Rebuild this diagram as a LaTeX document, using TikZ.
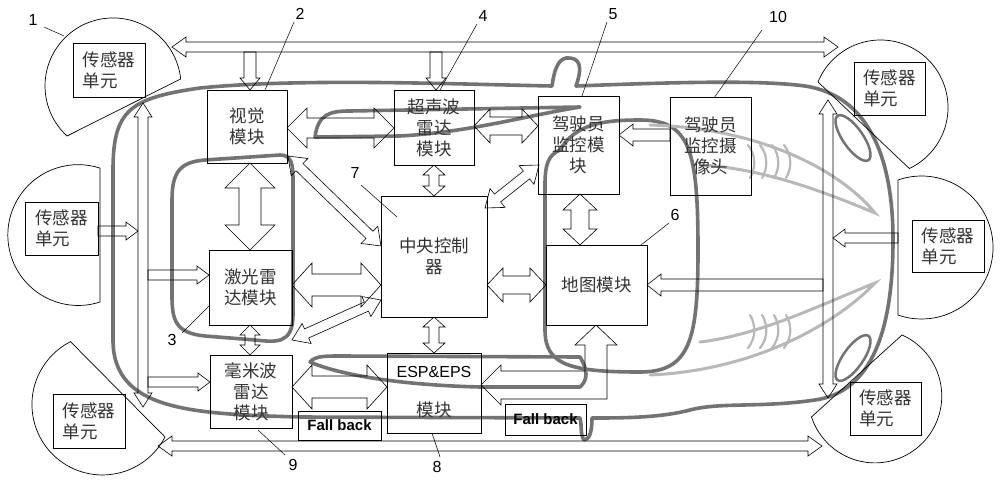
\documentclass[tikz,border=0pt]{standalone}
\usepackage{fontspec}
\setmainfont{Liberation Sans}
\newfontfamily\cjk{Noto Sans CJK SC}
\begin{document}
\begin{tikzpicture}[x=1pt,y=-1pt,
  box/.style={draw,line width=0.7pt,inner sep=0pt,font=\cjk\fontsize{17.5}{21}\selectfont,align=center,text=black!80},
  sbox/.style={box,align=left},
  fb/.style={draw,line width=0.9pt,inner sep=0pt,font=\bfseries\fontsize{15}{18}\selectfont},
  harr/.style={draw,line width=0.6pt,line join=miter},
  car/.style={draw=black!55,line width=3.6pt,line cap=round,line join=round},
  streak/.style={draw=black!28,line width=3pt,line cap=round},
  lead/.style={line width=0.5pt},
  num/.style={font=\fontsize{16}{18}\selectfont}]
\useasboundingbox (0,0) rectangle (1000,495);
\newcommand\dbl[7]{%
 \pgfmathsetmacro\mydx{#3-#1}\pgfmathsetmacro\mydy{#2-#4}%
 \pgfmathsetmacro\myang{atan2(\mydy,\mydx)}\pgfmathsetmacro\mylen{veclen(\mydx,\mydy)}%
 \draw[harr,shift={(#1,#2)},rotate=\myang] (0,0) -- (#7,#6) -- (#7,#5) -- ({\mylen-#7},#5) -- ({\mylen-#7},#6) -- (\mylen,0) -- ({\mylen-#7},-#6) -- ({\mylen-#7},-#5) -- (#7,-#5) -- (#7,-#6) -- cycle;}
\newcommand\sgl[7]{%
 \pgfmathsetmacro\mydx{#3-#1}\pgfmathsetmacro\mydy{#2-#4}%
 \pgfmathsetmacro\myang{atan2(\mydy,\mydx)}\pgfmathsetmacro\mylen{veclen(\mydx,\mydy)}%
 \draw[harr,shift={(#1,#2)},rotate=\myang] (0,#5) -- ({\mylen-#7},#5) -- ({\mylen-#7},#6) -- (\mylen,0) -- ({\mylen-#7},-#6) -- ({\mylen-#7},-#5) -- (0,-#5) -- cycle;}

% ---- car outline ----
\draw[car] (113,170) .. controls (113,110) and (130,98) .. (200,88)
  .. controls (300,78) and (450,84) .. (552,86)
  .. controls (554,72) and (557,60) .. (566,58) .. controls (580,57) and (583,66) .. (576,86)
  .. controls (680,82) and (760,80) .. (805,86) .. controls (870,96) and (893,160) .. (893,240)
  .. controls (893,330) and (872,392) .. (815,400) .. controls (760,408) and (720,402) .. (690,410)
  .. controls (660,418) and (620,418) .. (592,418) .. controls (592,430) and (590,440) .. (584,440)
  .. controls (580,435) and (582,425) .. (580,418)
  -- (300,417) .. controls (190,414) and (113,410) .. (113,340) -- cycle;
\draw[car] (205,160) -- (280,155) .. controls (292,155) and (293,165) .. (293,180) -- (293,315)
  .. controls (293,345) and (275,342) .. (255,340) -- (205,336) .. controls (175,333) and (172,320) .. (172,295)
  -- (172,200) .. controls (172,172) and (180,162) .. (205,160) -- cycle;
\draw[car] (560,150) .. controls (548,155) and (545,165) .. (545,185) -- (545,330)
  .. controls (545,365) and (570,372) .. (640,372) .. controls (690,372) and (698,340) .. (698,250)
  .. controls (698,150) and (690,120) .. (640,120) .. controls (600,120) and (575,125) .. (560,150) -- cycle;
\draw[car] (315,137) .. controls (318,114) and (330,111) .. (350,111) -- (580,107)
  .. controls (520,117) and (470,132) .. (400,136) -- cycle;
\draw[car] (310,362) .. controls (315,356) and (325,356) .. (340,356) -- (580,357)
  .. controls (588,370) and (588,380) .. (580,387) -- (480,387) .. controls (400,385) and (340,375) .. (310,362) -- cycle;
\draw[car,line width=2.5pt] (853,138) ellipse [x radius=27,y radius=10,rotate=-55];
\draw[car,line width=2.5pt] (853,358) ellipse [x radius=27,y radius=10,rotate=55];
\draw[streak] (650,125) .. controls (760,128) and (840,170) .. (875,213) .. controls (820,190) and (760,168) .. (700,165);
\draw[streak] (650,375) .. controls (760,370) and (840,320) .. (875,283) .. controls (820,305) and (760,335) .. (700,342);
\foreach \xx in {748,760,772,784}{
  \draw[streak,line width=2.2pt] (\xx,145) .. controls (\xx+8,155) and (\xx+8,168) .. (\xx+2,178);
  \draw[streak,line width=2.2pt] (\xx,348) .. controls (\xx+8,338) and (\xx+8,325) .. (\xx+2,315);}

% ---- sensor units ----
\draw[line width=0.7pt] (67,136) arc[start angle=132.6,end angle=354.1,radius=68] -- cycle;
\draw[line width=0.7pt] (100,302) arc[start angle=72,end angle=288,radius=70.4] -- cycle;
\draw[line width=0.7pt] (165,437) arc[start angle=27.5,end angle=243,radius=70.5] -- cycle;
\draw[line width=0.7pt] (818,82) arc[start angle=202.2,end angle=424.7,radius=67.5] -- cycle;
\draw[line width=0.7pt] (898,180) arc[start angle=-109.2,end angle=109.2,radius=71.5] -- cycle;
\draw[line width=0.7pt] (902,335) arc[start angle=-66.1,end angle=161.8,radius=66.8] -- cycle;
\node[sbox,minimum width=72,minimum height=54] (s1) at (109,70) {传感器\\单元};
\node[sbox,minimum width=73,minimum height=53] (s2) at (61.5,228.5) {传感器\\单元};
\node[sbox,minimum width=72,minimum height=54] (s3) at (89,421) {传感器\\单元};
\node[sbox,minimum width=71,minimum height=53] (s4) at (889.5,88.5) {传感器\\单元};
\node[sbox,minimum width=72,minimum height=52] (s5) at (948,246) {传感器\\单元};
\node[sbox,minimum width=71,minimum height=53] (s6) at (885.5,408.5) {传感器\\单元};

% ---- modules ----
\node[box,minimum width=80,minimum height=73] (vis) at (247,126.5) {视觉\\模块};
\node[box,minimum width=83,minimum height=75] (lid) at (250.5,287.5) {激光雷\\达模块};
\node[box,minimum width=82,minimum height=73] (mmw) at (251,391.5) {毫米波\\雷达\\模块};
\node[box,minimum width=80,minimum height=75] (ult) at (434,127.5) {超声波\\雷达\\模块};
\node[box,minimum width=81,minimum height=98] (drv) at (578.5,145) {驾驶员\\监控模\\块};
\node[box,minimum width=81,minimum height=98] (cam) at (710.5,146) {驾驶员\\监控摄\\像头};
\node[box,minimum width=106,minimum height=121] (ctl) at (434,256.5) {中央控制\\器};
\node[box,minimum width=101,minimum height=80] (map) at (596.5,285) {地图模块};
\node[box,minimum width=94,minimum height=80] (esp) at (434,393) {};
\node[font=\fontsize{16}{18}\selectfont] (espt) at (434,372) {ESP\&EPS};
\node[font=\cjk\fontsize{17.5}{20}\selectfont,text=black!80] (espm) at (434,410) {模块};
\node[fb,minimum width=83,minimum height=29] (fb1) at (339.5,425.5) {Fall back};
\node[fb,minimum width=81,minimum height=31] (fb2) at (545.5,419.5) {Fall back};

% ---- hollow arrows ----
\dbl{172}{47}{838}{47}{5}{10}{14}
\dbl{158}{446}{822}{446}{5}{10}{14}
\dbl{143}{103}{143}{407}{5}{9}{14}
\dbl{828}{100}{828}{398}{5}{9}{14}
\sgl{250}{52}{250}{90}{6}{10}{12}
\sgl{436}{52}{436}{90}{6}{10}{12}
\sgl{98}{231}{138}{231}{5}{9}{12}
\sgl{148}{275}{209}{275}{5}{9}{12}
\sgl{148}{382}{210}{382}{5}{9}{12}
\sgl{898}{238}{833}{238}{5}{9}{12}
\sgl{823}{285}{647}{285}{6}{11}{14}
\sgl{670}{135}{619}{135}{6}{11}{14}
\dbl{250}{163}{250}{250}{11}{25}{25}
\dbl{250}{325}{250}{355}{5}{10}{10}
\dbl{287}{128}{394}{128}{10}{20}{20}
\dbl{474}{126}{538}{126}{9}{17}{16}
\dbl{434}{165}{434}{196}{5}{11}{10}
\dbl{288}{156}{381}{246}{5}{12}{16}
\dbl{539}{165}{485}{208}{5}{12}{16}
\dbl{580}{194}{580}{245}{9}{17}{16}
\dbl{487}{285}{546}{285}{9}{17}{16}
\dbl{434}{317}{434}{353}{5}{11}{10}
\dbl{292}{285}{381}{285}{11}{22}{20}
\dbl{292}{340}{381}{300}{5}{11}{16}
\dbl{292}{387}{387}{387}{11}{22}{20}
\draw[harr] (481,385) -- (501,365) -- (501,371) -- (585,371) -- (585,345) -- (575,345) -- (596,325)
  -- (617,345) -- (607,345) -- (607,399) -- (501,399) -- (501,405) -- cycle;

% ---- reference numbers ----
\node[num] (n1) at (33,20) {1};   \draw[lead] (44,27) -- (64,36);
\node[num] (n2) at (300,14) {2};  \draw[lead] (294,22) -- (265,90);
\node[num] (n4) at (483,16) {4};  \draw[lead] (477,24) -- (440,90);
\node[num] (n5) at (613,14) {5};  \draw[lead] (607,22) -- (582,96);
\node[num] (n10) at (778,17) {10};\draw[lead] (762,30) -- (714,98);
\node[num] (n7) at (355,173) {7}; \draw[lead] (361,185) -- (397,217);
\node[num] (n6) at (675,215) {6}; \draw[lead] (669,223) -- (641,245);
\node[num] (n3) at (172,340) {3}; \draw[lead] (182,333) -- (210,305);
\node[num] (n9) at (293,465) {9}; \draw[lead] (285,455) -- (258,430);
\node[num] (n8) at (437,467) {8}; \draw[lead] (440,457) -- (432,433);
\end{tikzpicture}
\end{document}
